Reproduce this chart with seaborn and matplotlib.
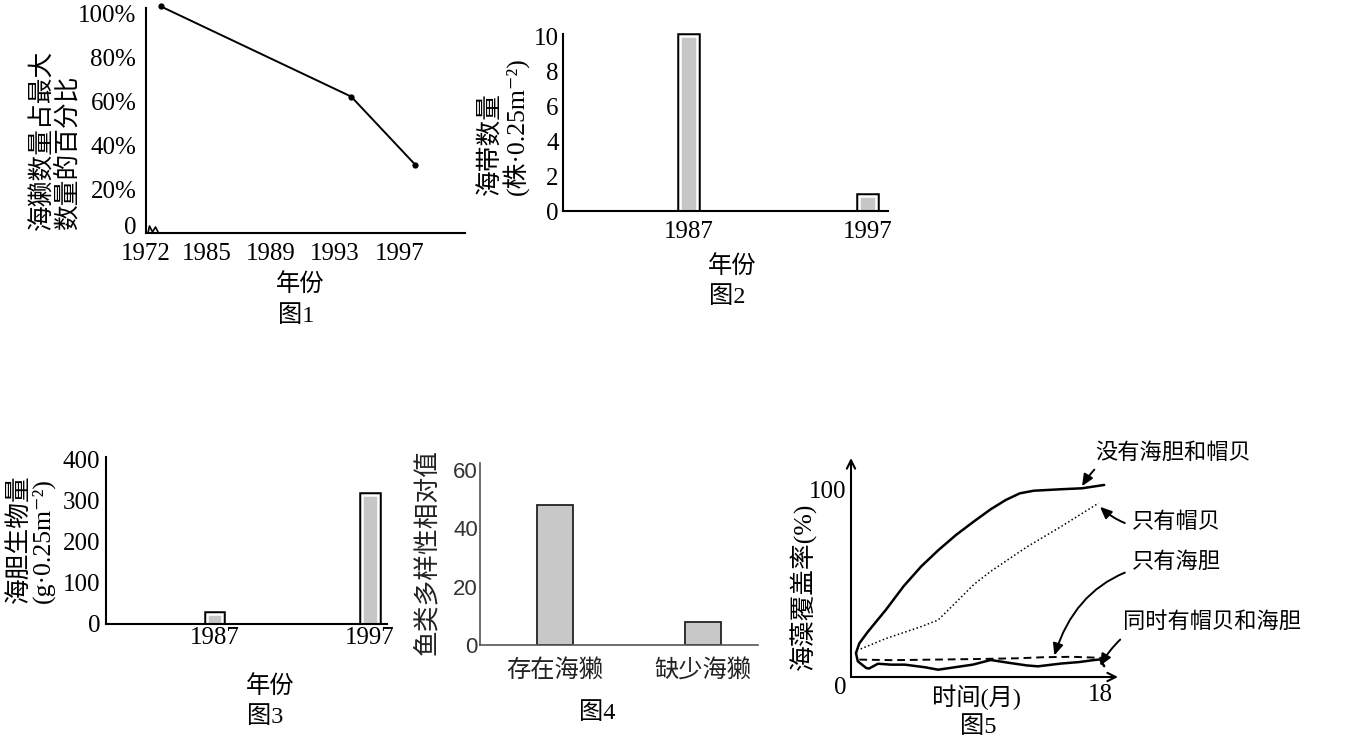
import numpy as np
import matplotlib
matplotlib.use("Agg")
import matplotlib.pyplot as plt
import matplotlib.patheffects as pe
import matplotlib.transforms as mtransforms
import seaborn as sns

# ---------------- data ----------------
# Fig 1: sea otter numbers as % of maximum
otter_years = [1972, 1994, 1998]
otter_pct = [103, 62, 31]
fig1_ytick_vals = [0, 20, 40, 60, 80, 100]
fig1_ytick_labels = ["0", "20%", "40%", "60%", "80%", "100%"]
fig1_label_years = [1972, 1985, 1989, 1993, 1997]
fig1_minor_years = [1983, 1985, 1987, 1989, 1991, 1993, 1995, 1997, 1999, 2001]

# Fig 2: kelp count
kelp_years = [1987, 1997]
kelp_counts = [10, 0.85]
fig2_yticks = [0, 2, 4, 6, 8, 10]

# Fig 3: sea urchin biomass
urchin_years = [1987, 1997]
urchin_biomass = [24, 315]
fig3_yticks = [0, 100, 200, 300, 400]
minor_years_23 = [1982, 1984, 1986, 1988, 1990, 1992, 1994, 1996, 1998]

# Fig 4: fish diversity
fish_groups = ["存在海獭", "缺少海獭"]
fish_diversity = [48, 8]
fig4_yticks = [0, 20, 40, 60]

# Fig 5: algae coverage (%) vs month
month_none = [0.36, 0.6, 1.2, 2.54, 3.8, 5.07, 6.34, 7.6, 8.87, 10.1, 11.2, 12.2, 13.2, 15.2, 16.7, 18.3]
cover_none = [12.8, 18, 24, 36.1, 48.5, 59.1, 68, 76, 83.1, 89.7, 94.7, 98.2, 99.6, 100.4, 100.9, 102.7]
month_limpet = [0.7, 2.5, 5.1, 6.3, 7.6, 8.87, 10.1, 12.7, 15.2, 17.9]
cover_limpet = [15, 20.5, 27, 30.5, 40, 49.4, 56.5, 69.5, 80.5, 93]
month_urchin = [0.6, 3, 6, 9, 12, 14, 16, 18.2]
cover_urchin = [9.3, 9.0, 9.3, 9.6, 10.0, 10.6, 10.8, 10.2]
month_both = [0.36, 0.49, 1.1, 1.3, 1.95, 2.9, 3.9, 5.35, 6.3, 7.5, 8.8, 10.1, 11.4, 12.7, 13.5, 15.2, 16.5, 17.5, 18.0, 18.3]
cover_both = [12.8, 8.4, 4.8, 4.5, 7.1, 6.6, 6.6, 5.2, 3.9, 5.2, 6.6, 9.1, 7.6, 6.2, 5.7, 7.2, 8.0, 9.0, 9.4, 5.8]

# ---------------- style ----------------
sns.set_style("white")
plt.rcParams.update({
    "text.color": "black",
    "axes.edgecolor": "black",
    "axes.labelcolor": "black",
    "xtick.color": "black",
    "ytick.color": "black",
    "axes.linewidth": 1.5,
})
FAM = ["Liberation Serif", "Noto Sans CJK SC", "DejaVu Sans"]
plt.rcParams["font.family"] = FAM

W, H = 1350, 744
fig = plt.figure(figsize=(13.5, 7.44), dpi=100)
fig.patch.set_facecolor("white")


def add_ax(l, t, r, b):
    return fig.add_axes([l / W, 1 - b / H, (r - l) / W, (b - t) / H])


def ftext(x, y, s, **kw):
    kw.setdefault("ha", "center")
    kw.setdefault("va", "center")
    fig.text(x / W, 1 - y / H, s, **kw)


def shift(label, dx_px, dy_px):
    label.set_transform(label.get_transform() +
                        mtransforms.ScaledTranslation(dx_px / 100, dy_px / 100, fig.dpi_scale_trans))


def clean(ax):
    sns.despine(ax=ax)
    ax.set_facecolor("white")
    ax.set_xlabel("")
    ax.set_ylabel("")


CJK = 17.5
YL = 18.5
NUM = 18

# ---------------- Fig 1 ----------------
ax1 = add_ax(146, 8, 465, 233)
sns.lineplot(x=otter_years, y=otter_pct, ax=ax1, color="black", lw=1.4,
             marker="o", markersize=4.5, markeredgewidth=0, clip_on=False)


def _fwd(x):
    return np.interp(x, [1960, 1972, 1983, 2010], [1981.19, 1982.12, 1983, 2010])


def _inv(y):
    return np.interp(y, [1981.19, 1982.12, 1983, 2010], [1960, 1972, 1983, 2010])


ax1.set_xscale("function", functions=(_fwd, _inv))
ax1.set_xlim(1960, 2001.1)
ax1.set_ylim(0, 102.3)
clean(ax1)
ax1.set_yticks(fig1_ytick_vals, labels=fig1_ytick_labels)
ax1.set_xticks(fig1_label_years, labels=[str(y) for y in fig1_label_years])
ax1.set_xticks(fig1_minor_years, minor=True)
ax1.tick_params(axis="y", direction="in", length=6.5, width=1.3, pad=7, labelsize=NUM)
ax1.tick_params(axis="x", which="both", direction="in", length=3.6, width=1.3, pad=7, labelsize=NUM)
ax1.xaxis.get_major_ticks()[0].tick1line.set_visible(False)
# axis-break mark
brk = fig.dpi_scale_trans + mtransforms.ScaledTranslation(0, 0, ax1.transAxes)
ax1.plot(np.array([2, 3.5, 6.5, 9.5, 12.5]) / 100, np.array([0, 7, 1, 6, 0]) / 100,
         color="black", lw=1.2, transform=brk, clip_on=False)
shift(ax1.get_xticklabels()[0], -15, 0)
shift(ax1.get_yticklabels()[0], 0, 7)
ftext(55, 230, "海獭数量占最大\n数量的百分比", rotation=90, va="bottom", ha="center",
      multialignment="left", fontsize=YL, linespacing=1.0)
ftext(300, 285, "年份", fontsize=CJK)
ftext(296, 316, "图1", fontsize=CJK)

# bar style with black outer line and white inner ring
ring = [pe.Stroke(linewidth=4.7, foreground="black"), pe.Normal()]

# ---------------- Fig 2 ----------------
ax2 = add_ax(563, 30, 888, 211)
sns.barplot(x=kelp_years, y=kelp_counts, native_scale=True, width=0.095,
            color="#c6c6c6", saturation=1, edgecolor="white", linewidth=1.8,
            errorbar=None, ax=ax2)
for p in ax2.patches:
    p.set_path_effects(ring)
clean(ax2)
ax2.set_xlim(1980, 1998.15)
ax2.set_ylim(0, 10.35)
ax2.spines["left"].set_bounds(0, 10.11)
ax2.set_yticks(fig2_yticks)
ax2.set_xticks(kelp_years, labels=[str(y) for y in kelp_years])
ax2.set_xticks(minor_years_23, minor=True)
ax2.tick_params(axis="y", direction="in", length=4.5, width=1.3, pad=3, labelsize=NUM)
ax2.tick_params(axis="x", which="major", length=0, pad=7, labelsize=NUM)
ax2.tick_params(axis="x", which="minor", direction="in", length=3.5, width=1.3)
ftext(504, 195, "海带数量\n(株·0.25m⁻²)", rotation=90, va="bottom", ha="center",
      multialignment="left", fontsize=YL, linespacing=1.0)
ftext(732, 267, "年份", fontsize=CJK)
ftext(727, 297, "图2", fontsize=CJK)

# ---------------- Fig 3 ----------------
ax3 = add_ax(106, 457, 387, 624)
sns.barplot(x=urchin_years, y=urchin_biomass, native_scale=True, width=0.1,
            color="#c6c6c6", saturation=1, edgecolor="white", linewidth=1.8,
            errorbar=None, ax=ax3)
for p in ax3.patches:
    p.set_path_effects(ring)
clean(ax3)
ax3.set_xlim(1980, 1998.1)
ax3.set_ylim(0, 407)
ax3.set_yticks(fig3_yticks)
ax3.set_xticks(urchin_years, labels=[str(y) for y in urchin_years])
ax3.set_xticks(minor_years_23, minor=True)
ax3.tick_params(axis="y", direction="in", length=6.5, width=1.3, pad=4, labelsize=NUM)
ax3.tick_params(axis="x", which="major", length=0, pad=2, labelsize=NUM)
ax3.tick_params(axis="x", which="minor", direction="in", length=3.5, width=1.3)
ftext(31, 603, "海胆生物量\n(g·0.25m⁻²)", rotation=90, va="bottom", ha="center",
      multialignment="left", fontsize=YL, linespacing=1.0)
ftext(270, 687, "年份", fontsize=CJK)
ftext(265, 717, "图3", fontsize=CJK)

# ---------------- Fig 4 ----------------
ax4 = add_ax(480, 463, 758, 645)
sns.barplot(x=fish_groups, y=fish_diversity, width=0.245, color="#c8c8c8",
            saturation=1, edgecolor="#222222", linewidth=1.3, errorbar=None, ax=ax4)
clean(ax4)
for s in ("left", "bottom"):
    ax4.spines[s].set_color("#555555")
    ax4.spines[s].set_linewidth(1.2)
ax4.set_xlim(-0.507, 1.37)
ax4.set_ylim(0, 62.4)
ax4.set_yticks(fig4_yticks)
ax4.tick_params(axis="y", direction="in", length=5, width=1.2, color="#555555",
                labelcolor="#333333", pad=1.5, labelsize=16)
for t in ax4.get_yticklabels():
    t.set_fontfamily(["Liberation Sans", "DejaVu Sans"])
ax4.tick_params(axis="x", length=0, pad=10, labelsize=CJK, labelcolor="#222222")
ftext(427, 552, "鱼类多样性相对值", rotation=90, fontsize=YL, color="#222222")
ftext(597, 713, "图4", fontsize=CJK)

# ---------------- Fig 5 ----------------
ax5 = add_ax(851, 458, 1118, 677)
sns.lineplot(x=month_none, y=cover_none, sort=False, estimator=None, ax=ax5,
             color="black", lw=1.8)
sns.lineplot(x=month_limpet, y=cover_limpet, sort=False, estimator=None, ax=ax5,
             color="black", lw=1.1, linestyle=(0, (1, 1.6)))
sns.lineplot(x=month_urchin, y=cover_urchin, sort=False, estimator=None, ax=ax5,
             color="black", lw=1.4, linestyle=(0, (4, 2.5)))
sns.lineplot(x=month_both, y=cover_both, sort=False, estimator=None, ax=ax5,
             color="black", lw=1.8)
ax5.set_xlim(0, 19.3)
ax5.set_ylim(0, 117.1)
ax5.set_xlabel("")
ax5.set_ylabel("")
for s in ax5.spines.values():
    s.set_visible(False)
ax5.annotate("", xy=(1, 0), xytext=(0, 0), xycoords="axes fraction",
             arrowprops=dict(arrowstyle="->,head_length=0.6,head_width=0.3", lw=1.5,
                             color="black", shrinkA=0, shrinkB=0))
ax5.annotate("", xy=(0, 1), xytext=(0, 0), xycoords="axes fraction",
             arrowprops=dict(arrowstyle="->,head_length=0.6,head_width=0.3", lw=1.5,
                             color="black", shrinkA=0, shrinkB=0))
ax5.set_xticks([18], labels=["18"])
ax5.set_yticks([0, 100], labels=["0", "100"])
ax5.tick_params(axis="both", length=0, labelsize=NUM)
ax5.tick_params(axis="x", pad=5)
ax5.tick_params(axis="y", pad=3)
ax5.get_yticklabels()[0].set_verticalalignment("top")

notes = [
    ("没有海胆和帽贝", (16.7, 102), (1095, 453), 0.4),
    ("只有帽贝", (18.0, 91), (1132, 523), -0.3),
    ("只有海胆", (14.7, 11.5), (1132, 562), 0.35),
    ("同时有帽贝和海胆", (18.0, 6), (1123, 623), 0.4),
]
for txt, xy, (tx, ty), rad in notes:
    ax5.annotate(txt, xy=xy, xycoords="data", xytext=(tx, H - ty),
                 textcoords="figure pixels", ha="left", va="center", fontsize=16,
                 arrowprops=dict(arrowstyle="-|>,head_length=0.5,head_width=0.22",
                                 connectionstyle=f"arc3,rad={rad}", lw=1.4,
                                 color="black", shrinkA=3, shrinkB=0,
                                 mutation_scale=14))
ftext(803, 586, "海藻覆盖率(%)", rotation=90, fontsize=YL)
ftext(977, 697, "时间(月)", fontsize=CJK)
ftext(978, 727, "图5", fontsize=CJK)

fig.savefig("out.png", dpi=100, facecolor="white")
